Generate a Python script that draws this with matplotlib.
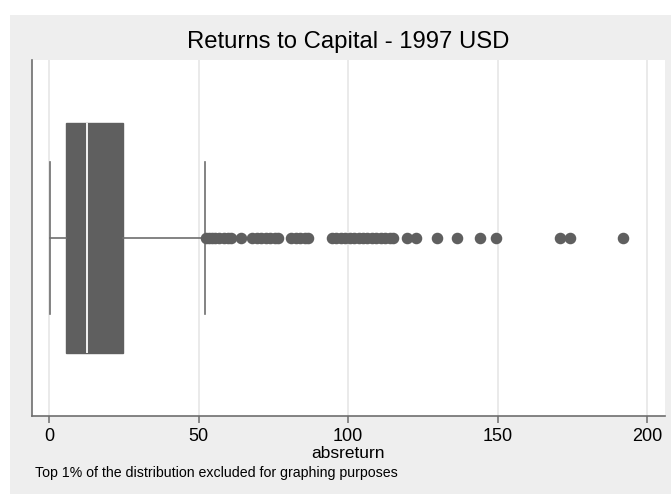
import matplotlib
matplotlib.use("Agg")
import matplotlib.pyplot as plt
from matplotlib.patches import Rectangle

plt.rcParams['font.family'] = ['Liberation Sans', 'DejaVu Sans']

# box summary (absreturn, 1997 USD)
whislo = 0.4
q1 = 5.6
med = 12.6
q3 = 24.9
whishi = 52.0
outliers = [52.6, 53.5, 54.5, 55.5, 57.0, 58.5, 60.0, 61.0, 64.3,
            68.0, 69.5, 71.0, 72.5, 74.0, 75.5, 76.5,
            81.0, 82.5, 84.0, 85.5, 86.5,
            94.5, 96.0, 97.5, 99.0, 100.5, 102.0, 103.5, 105.0, 106.5,
            108.0, 109.5, 111.0, 112.5, 114.0, 115.0,
            119.6, 122.6, 129.6, 136.5, 144.0, 149.6, 170.8, 174.2, 191.8]
xticks = [0, 50, 100, 150, 200]

dark = '#5f5f5f'
line = '#6e6e6e'

fig = plt.figure(figsize=(6.71, 4.95), dpi=100)
fig.patch.set_facecolor('white')
# grey plot region background
fig.patches.append(Rectangle((10/671, 1/495), 1 - 10/671, 479/495,
                             transform=fig.transFigure, facecolor='#eeeeee',
                             edgecolor='none', zorder=-5))

ax = fig.add_axes([32/671, 1 - 416/495, 633/671, 356/495])
ax.set_zorder(2)
ax.set_facecolor('white')

stats = [dict(whislo=whislo, q1=q1, med=med, q3=q3, whishi=whishi, fliers=outliers)]
ax.bxp(stats, positions=[0.5], widths=0.646, capwidths=0.427,
       orientation='horizontal', patch_artist=True,
       boxprops=dict(facecolor=dark, edgecolor=dark, linewidth=1),
       medianprops=dict(color='white', linewidth=1.3),
       whiskerprops=dict(color=line, linewidth=1.2),
       capprops=dict(color=line, linewidth=1.2),
       flierprops=dict(marker='o', markersize=7.3, markerfacecolor=dark,
                       markeredgecolor=dark, linestyle='none'))

ax.set_ylim(0, 1)
ax.set_xlim(-5.7, 206)
ax.set_yticks([])
ax.set_xticks(xticks)
ax.set_xticklabels([str(t) for t in xticks], fontsize=13)
ax.tick_params(axis='x', direction='out', length=5, width=1.1, color=line, pad=3.5)
ax.grid(axis='x', color='#e8e8e8', linewidth=1.3)
ax.set_axisbelow(True)

for side in ['top', 'right']:
    ax.spines[side].set_visible(False)
for side in ['left', 'bottom']:
    ax.spines[side].set_color(line)
    ax.spines[side].set_linewidth(1.2)

ax.set_xlabel('absreturn', fontsize=12.5, labelpad=0.5)
fig.text(348/671, 1 - 42/495, 'Returns to Capital - 1997 USD', ha='center', va='center', fontsize=17.2)
fig.text(35/671, 1 - 473/495, 'Top 1% of the distribution excluded for graphing purposes',
         ha='left', va='center', fontsize=10.2)

fig.savefig('out.png', dpi=100)
